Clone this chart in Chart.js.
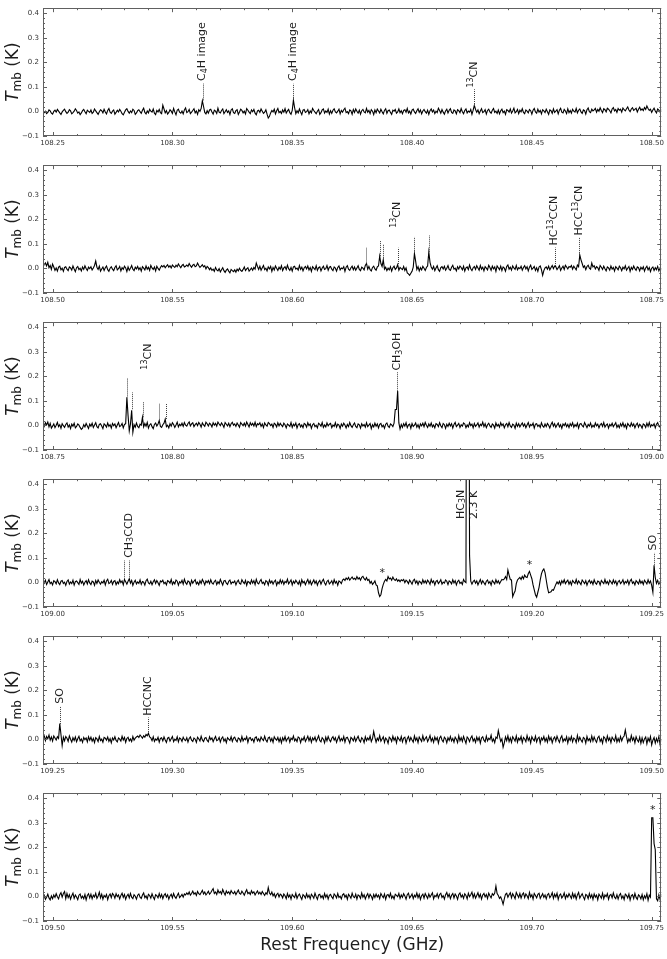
<!DOCTYPE html>
<html><head><meta charset="utf-8">
<script src="https://cdn.jsdelivr.net/npm/chart.js@4.4.1/dist/chart.umd.min.js"></script>
<style>
html,body{margin:0;padding:0;background:#fff;}
#wrap{position:relative;width:667px;height:959px;overflow:hidden;background:#fff;}
#wrap canvas{position:absolute;left:0;}
</style></head>
<body><div id="wrap"></div>
<script>
// ---- DATA (main-beam temperature in mK, one value per 0.0005 GHz channel) ----
const channelWidthGHz = 0.0005;
const panelSpanGHz = 0.258;
const panelStarts = [108.246, 108.496, 108.746, 108.996, 109.246, 109.496];

const tmbPanel1 = [
 3,-5,1,-9,-4,6,2,-7,-11,0,5,-3,8,1,-6,-12,-2,4,9,-1,
 -8,-3,7,2,-10,-5,1,11,4,-7,-2,-13,-6,3,8,-1,-9,5,0,-4,
 6,-8,-3,10,2,-5,-12,-1,7,3,-6,9,-2,-10,4,12,-3,-8,1,6,
 -11,-4,5,-2,8,1,-9,-14,-3,6,11,0,-7,2,-5,9,4,-12,-6,3,
 7,-1,-8,5,13,-4,-10,2,-6,9,1,-3,10,-7,-13,4,-2,8,-5,-9,
 25,10,-6,3,-11,-4,7,1,-8,12,-2,-14,5,9,-3,-7,2,-10,6,14,
 -5,-1,8,-9,-3,4,11,-6,2,-12,7,0,12,43,20,-4,-10,3,-7,6,
 9,-2,-11,5,1,-8,13,-3,-6,4,10,-9,-1,7,-4,2,-13,6,11,-5,
 -8,3,7,-12,-2,9,4,-6,1,-10,12,5,-3,-9,6,-1,8,-7,-14,2,
 5,-4,10,1,-8,-3,7,-11,-27,-20,-6,4,-2,9,-10,3,12,-5,0,-8,
 6,-3,11,-7,2,8,-5,-12,4,46,15,-9,3,-6,10,-2,-13,5,8,-4,
 -1,7,-10,2,-6,12,4,-3,-9,1,8,-12,-5,6,10,-7,2,-4,9,-11,
 3,-8,5,11,-2,-6,1,9,-10,4,-3,7,13,-5,-1,-9,6,2,-12,8,
 -4,10,1,-7,5,-11,3,8,-2,-6,12,-3,4,-9,7,1,-13,6,-5,10,
 2,-6,9,-1,-10,4,11,-8,3,6,-4,-12,5,1,8,-7,-2,10,-5,3,
 -9,4,7,-3,12,-6,1,-11,5,9,-2,-8,3,11,-4,6,-10,2,8,-1,
 -7,5,-12,3,10,-2,6,-9,1,-5,13,4,-7,8,-3,-11,2,9,-6,5,
 11,-4,-8,6,2,-10,7,3,-5,12,-1,-9,4,10,-6,1,-3,8,-12,5,
 25,8,-3,6,-9,2,11,-5,-1,7,-11,4,9,-2,-7,5,12,-4,1,-8,
 6,-10,3,9,-5,1,-12,7,4,-3,10,-7,2,13,-6,-1,8,-9,5,-2,
 11,-4,-9,6,1,-6,8,3,-11,5,12,-2,-7,9,-3,4,-10,7,2,-5,
 9,-1,-12,6,3,-8,10,-4,1,7,-10,5,13,-3,-6,8,2,-9,11,-5,
 4,-7,9,1,-3,12,-6,5,10,-2,-8,6,3,-11,7,14,-1,-5,9,2,
 6,12,-3,8,1,15,4,-5,11,7,-2,13,9,3,-6,10,16,2,8,-4,
 12,5,9,-3,14,7,2,11,18,6,-1,10,15,4,8,13,-2,9,17,5,
 10,3,16,8,22,12,4,9,-4,6,13,2,-6,10,5,-3,8,1,6,-2
];
const tmbPanel2 = [
 8,15,22,10,25,3,12,-4,18,6,-8,2,-11,5,9,-6,1,-12,4,7,
 -3,-9,6,2,-7,10,-2,-13,3,8,-5,1,-10,6,-4,11,0,-8,5,-1,
 7,-6,2,12,30,5,-4,9,-11,-2,6,-8,3,10,-5,-12,1,7,-3,-9,
 4,11,-6,-1,8,-10,3,-4,9,2,-13,6,-7,1,12,-3,-9,5,-2,8,
 -5,3,-11,7,1,-6,10,-3,5,-8,12,2,-4,6,-10,9,0,-7,4,11,
 6,12,3,9,15,5,11,2,14,8,4,13,7,18,10,3,12,16,6,9,
 14,8,20,11,5,13,17,7,10,22,12,4,9,15,6,11,-2,8,3,-5,
 2,-8,-3,-12,4,-6,-10,-1,-14,-5,3,-9,-16,-7,-2,-11,-18,-4,-9,-13,
 -6,-15,-3,-10,1,-8,-12,-4,6,-9,-2,3,-11,-5,2,-7,4,-3,22,8,
 -4,9,-7,3,12,-5,1,-10,6,-2,8,-12,4,-6,10,1,-8,5,-3,11,
 -9,2,7,-5,13,-1,-8,4,-11,6,9,-3,1,-7,12,-4,5,-10,3,8,
 -2,10,-6,4,-12,7,1,-5,11,-8,3,6,-10,2,9,-4,-1,12,-7,5,
 8,-3,-9,6,1,-11,4,10,-6,2,-1,7,-12,5,11,-3,-8,3,9,-5,
 6,-7,2,11,-4,-9,5,1,-6,12,20,-3,8,-5,-10,4,9,-2,-7,6,
 10,50,20,8,35,-3,5,-9,1,-6,7,-11,3,9,-4,2,15,-7,4,-1,
 -5,8,-8,2,-18,-22,-28,-20,-12,5,61,30,-4,7,-10,3,-6,9,1,-8,
 4,10,67,25,6,-3,8,-9,2,11,-5,-12,3,7,-2,9,-7,1,12,-4,
 -8,5,13,-3,1,-10,7,-2,10,4,-6,9,-11,2,6,-5,14,-1,-9,3,
 8,-4,11,2,-7,12,-3,5,-10,7,1,-6,13,4,-8,9,-2,6,-12,10,
 3,-5,9,-9,6,1,-11,8,14,-3,5,-7,10,2,-4,12,-6,3,-1,9,
 -7,4,11,-2,7,-10,5,13,-4,1,8,-8,3,-12,6,10,-5,-28,-9,2,
 6,-3,9,-6,4,12,-1,10,7,-5,3,11,-8,2,9,-4,13,6,-2,8,
 5,12,-3,9,2,-6,14,7,55,35,20,4,10,-5,8,13,1,-3,22,6,
 11,-2,7,3,-8,12,5,-4,9,-1,-10,6,2,-7,10,-3,4,-11,7,1,
 -6,9,3,-9,5,-2,11,-7,1,8,-12,4,-4,10,-1,-8,6,3,-10,5,
 -3,7,-11,2,9,-6,4,-13,1,6,-8,3,-5,8,-10,2,-7,5,-2,-9
];
const tmbPanel3 = [
 5,-4,11,2,14,-6,8,-11,-3,6,-9,1,12,-5,3,-12,7,-1,-8,4,
 10,-7,2,-13,5,-3,9,-10,-4,6,1,-8,-16,-11,3,-6,8,-2,-12,5,
 -3,9,-8,2,11,-5,-10,4,7,-2,-13,6,1,-7,10,-4,3,-11,8,-1,
 6,-9,2,12,-5,-1,8,-10,4,7,115,40,-22,6,62,-28,3,-7,10,-4,
 -9,5,1,33,-6,8,-3,12,-11,2,7,-5,-13,4,10,-2,6,20,-4,-8,
 3,9,25,-5,1,-10,7,-3,11,4,-8,2,13,-6,5,-1,9,-4,12,1,
 -3,8,14,-2,6,11,-5,3,9,-1,12,5,-7,10,2,-4,13,7,-2,9,
 4,-6,11,1,8,-3,14,6,-1,10,3,-8,12,5,-2,9,-5,7,13,1,
 6,-4,10,2,-7,12,5,-1,9,-3,14,4,-6,11,1,8,-2,13,-5,7,
 3,11,-4,6,-9,10,2,-3,12,7,-1,5,-8,9,4,-6,11,-2,8,1,
 -5,9,3,-10,6,1,-4,12,-8,5,-2,10,-11,3,7,-6,2,-9,8,4,
 -7,11,-1,6,-12,3,8,-5,1,-10,9,4,-3,12,-8,2,-6,10,-2,5,
 8,-9,2,-4,11,-7,5,1,-12,6,-3,9,2,-10,4,-5,12,-1,-8,3,
 10,-4,-9,6,2,-11,7,-2,4,-7,11,-5,1,8,-13,3,-6,9,-3,6,
 -10,4,8,-6,1,-12,5,10,-3,-8,6,2,-5,9,65,65,140,10,-15,4,
 -8,7,-3,11,-9,2,5,-12,8,-4,1,10,-7,3,-11,6,-2,9,-5,12,
 1,-8,6,-3,10,-6,2,-10,7,4,-5,11,-1,-9,8,3,-12,5,-4,9,
 -2,7,-11,4,12,-5,1,8,-8,3,-3,10,6,-9,2,-6,11,-1,5,-10,
 8,-4,2,10,-7,5,-1,13,-5,7,-9,3,9,-2,-8,6,1,-11,10,-3,
 4,-7,11,-1,6,-10,3,8,-5,12,-2,-8,5,1,-12,9,-4,7,-6,3,
 10,-3,6,-9,2,12,-6,4,-1,9,-11,5,7,-4,2,-8,11,-2,-7,6,
 -5,8,1,-10,4,13,-3,7,-8,2,10,-6,3,-12,6,-1,9,-5,4,-9,
 7,-2,11,-7,3,-4,9,-11,5,8,-1,-6,12,2,-9,4,-3,10,-8,1,
 -6,10,-2,5,-10,3,8,-4,12,-7,1,6,-11,4,-2,9,-5,3,11,-8,
 2,-9,7,-3,11,-6,4,-12,8,1,-5,10,-2,6,-10,3,9,-7,5,-1,
 -11,6,2,-8,9,-4,12,-6,3,-2,7,-10,5,11,-3,-7,4,8,-5,2
];
const tmbPanel4 = [
 6,-3,9,-8,2,12,-5,1,-10,7,3,-6,11,-2,-9,5,8,-4,1,-12,
 4,10,-7,2,-5,9,-11,3,6,-1,-8,12,-3,5,-10,1,7,-6,11,-2,
 -9,5,2,-12,8,-4,10,1,-7,3,-2,9,-10,6,13,-5,-1,8,-8,4,
 7,-9,2,-5,11,-1,6,-10,12,3,-7,5,15,-3,8,-12,1,9,-6,2,
 -4,10,-8,4,1,-11,7,13,-2,-6,5,-9,3,11,-4,8,-1,-12,6,2,
 9,-5,1,-10,7,4,-3,12,-8,2,-6,10,5,-11,3,-2,9,-7,13,-1,
 -8,6,2,-12,9,-3,5,11,-6,1,-9,7,-4,12,3,-10,6,-1,8,-5,
 11,-2,-7,4,9,-9,3,-5,12,1,-11,6,8,-3,-8,5,10,-6,2,-1,
 6,-10,3,9,-4,-7,11,2,-5,8,-12,4,1,-6,10,-3,7,-9,13,-2,
 -6,5,12,-4,1,-9,7,3,-11,10,-2,6,-7,4,9,-12,2,-5,11,-3,
 8,-8,4,-1,13,-6,2,10,-10,5,-3,9,1,-7,6,-12,11,-2,4,-9,
 3,12,-5,7,-9,1,10,-4,6,-11,2,8,-7,5,13,-2,-10,4,9,-6,
 -1,7,-8,11,-3,4,-12,6,2,-5,10,14,8,18,12,20,9,16,22,13,
 17,11,24,14,19,9,21,25,15,10,20,8,12,-3,4,-8,-2,6,-10,-14,
 -42,-57,-50,-25,-8,5,12,6,24,14,18,9,22,12,8,15,5,10,3,11,
 7,12,-1,9,4,-5,10,2,-7,8,13,-3,6,-9,5,1,-6,11,-2,7,
 -4,9,3,-8,12,-1,6,-10,4,8,-5,2,11,-7,1,-3,10,5,-9,6,
 2,-6,11,-2,7,-10,4,9,-4,1,-8,12,3,-1,2300,2300,110,5,-7,4,
 9,-3,6,-10,2,12,-5,7,-1,-9,5,10,-4,3,-11,8,1,-6,11,-2,
 7,-5,4,12,10,14,24,12,50,30,12,10,-58,-45,-35,-5,10,15,20,12,
 25,15,30,22,20,35,45,30,15,-10,-30,-50,-60,-40,-20,10,35,48,55,40,
 10,-20,-42,-40,-38,-30,-32,-20,-8,2,-6,5,-9,7,-2,11,-5,3,9,-7,
 4,-10,8,1,-4,12,-6,6,-1,-9,10,3,-5,7,-11,2,9,-3,5,-8,
 11,-2,-7,6,3,-10,8,1,-5,12,-4,4,-8,9,2,-6,10,-3,6,-11,
 3,8,-5,1,11,-7,4,-2,9,-9,6,13,-4,2,-10,7,1,-6,10,-3,
 5,-8,9,2,-6,11,-3,6,-12,-40,70,20,-4,8,-7,3,9,-5,2,-9
];
const tmbPanel5 = [
 8,16,-5,12,3,18,-3,10,-7,14,6,-2,11,4,65,20,-25,9,-6,12,
 5,-8,14,1,-11,7,-4,10,-9,3,13,-6,2,-12,8,-1,6,-10,11,-3,
 9,-7,4,-13,7,2,-9,12,-5,1,-11,8,5,-3,10,-8,3,-14,6,-2,
 11,-4,-10,6,1,-7,13,-2,8,-12,4,9,-6,2,-9,12,-3,5,10,14,
 8,18,12,5,15,9,20,15,25,10,6,-5,11,-8,2,-3,9,-11,4,7,
 -6,10,-2,-12,5,8,-7,3,12,-9,1,-4,11,-10,6,2,-8,9,-1,-5,
 7,-11,4,10,-3,-8,6,1,-12,9,3,-6,13,-2,-9,5,8,-4,-10,11,
 -1,6,-9,3,12,-5,-2,8,-11,4,10,-7,2,-13,7,1,-4,11,-8,5,
 9,-3,-10,6,2,-9,12,-6,4,-1,11,-12,5,8,-4,2,-11,7,10,-6,
 3,-8,10,1,-5,13,-2,-10,6,9,-7,4,-12,11,2,-3,8,-9,5,-14,
 7,-4,12,-7,3,9,-11,5,-1,14,-6,2,-9,10,6,-13,4,-3,11,-8,
 2,13,-5,8,-12,6,-2,10,-8,3,15,-4,-10,7,1,-14,9,-6,12,-1,
 -9,5,11,-3,7,-12,2,14,-7,4,-5,12,-11,6,9,-2,-15,8,3,-6,
 10,-8,4,13,-3,-10,7,1,-13,11,-5,6,-2,14,-9,3,32,8,-11,5,
 -4,15,-7,2,11,-12,6,-1,-16,9,4,-8,13,-3,7,-14,10,2,-6,12,
 -10,5,9,-15,3,12,-6,8,-2,-11,14,-4,6,-13,10,1,-8,15,-5,4,
 11,-9,2,16,-7,5,-12,10,-3,8,-15,6,13,-2,-10,9,3,-14,7,-4,
 12,-6,4,-11,9,1,-13,15,-5,7,-8,12,-2,-16,10,4,-9,6,14,-7,
 3,-12,10,-4,8,-15,6,11,-3,-10,13,-6,5,-1,17,-8,2,-13,9,4,
 36,12,-8,2,-32,-14,10,-5,15,-9,6,-12,11,3,-7,14,-11,5,-3,12,
 -13,8,2,-9,16,-4,7,-15,11,1,-6,13,-10,4,9,-16,6,-2,12,-8,
 5,-11,14,-3,8,-14,3,10,-7,13,-1,-12,6,15,-9,2,-5,11,-15,7,
 -4,12,-10,6,1,-13,16,-6,9,-2,-11,8,4,-15,12,-5,3,-9,14,-7,
 10,-3,-12,7,13,-8,2,-16,11,5,-10,14,-4,6,-13,9,1,-7,15,-11,
 4,-9,12,-6,8,14,38,10,-12,3,-8,16,-4,7,-14,11,-2,-10,9,-16,
 6,-13,2,10,-18,5,-7,12,-22,-3,8,-15,4,-10,11,-20,1,-6,9,-14
];
const tmbPanel6 = [
 -8,4,-12,-3,9,-6,-14,2,-9,6,-4,11,-1,-10,7,15,-3,12,20,-9,
 12,-5,7,-11,3,13,-8,6,-2,-13,5,10,-7,1,-9,8,-14,4,11,-6,
 9,-10,5,-2,13,-8,2,17,-6,9,-11,4,-3,8,-13,3,10,-5,12,6,
 -7,11,-1,6,-10,4,13,-4,8,-12,2,9,-6,12,-3,-9,7,1,-11,5,
 10,-3,-8,6,14,-5,2,-10,9,4,-7,11,-2,-12,7,3,-6,12,-4,8,
 -9,5,11,-3,7,-11,2,9,-6,12,-1,-8,4,13,-5,1,8,-3,10,6,
 14,8,18,5,12,22,9,15,4,20,11,7,16,25,10,18,6,13,21,9,
 15,24,32,12,18,8,26,14,20,10,28,16,6,22,13,19,9,24,15,11,
 20,7,17,26,12,9,21,14,5,18,27,11,16,8,23,13,19,6,15,22,
 10,17,8,20,12,4,15,9,36,14,7,18,2,11,-4,8,13,-2,9,5,
 -6,10,3,-9,12,-3,6,-11,8,1,-5,13,-8,4,10,-2,-12,7,2,-7,
 11,-4,5,-10,9,2,-7,13,-1,-12,6,9,-5,3,-9,12,-3,7,-11,4,
 8,-2,-9,10,4,-6,12,-4,1,-10,7,11,-3,5,-12,9,2,-7,13,-1,
 -5,9,-11,6,2,-8,14,-3,7,-10,3,11,-6,9,1,-12,8,-4,10,-2,
 6,-9,12,3,-5,10,-12,5,8,-3,13,-7,2,-10,9,4,-1,12,-8,6,
 -4,11,2,-11,7,13,-6,1,10,-9,5,-2,14,-5,8,-12,3,9,-7,12,
 2,-8,10,-3,6,15,-10,4,-1,11,-6,8,13,-4,3,-11,7,16,-2,9,
 -9,5,12,-6,10,2,-12,8,14,-3,6,-8,11,4,-10,13,-1,7,17,-5,
 10,-7,4,15,-3,9,-11,6,12,-2,8,-9,13,3,-6,11,5,14,42,12,
 4,-8,-2,-15,-32,-10,9,13,-3,7,15,-6,11,2,-9,16,6,-4,12,-7,
 8,14,-5,10,3,-9,16,-2,7,-11,12,4,-6,9,13,-8,2,11,-4,6,
 -10,7,12,-5,3,15,-8,9,-2,13,-12,5,10,-6,1,14,-9,6,-3,11,
 2,-8,13,-4,9,-11,6,16,-7,3,11,-2,-13,8,4,-9,12,-5,7,-12,
 10,-3,5,-14,9,2,-7,13,-10,6,-1,11,-12,4,8,-6,14,-3,-9,7,
 -11,5,12,-8,2,-13,9,4,-6,10,-15,3,7,-9,12,-4,-12,6,1,-10,
 8,-14,3,-7,11,-16,5,-3,320,320,215,190,-10,-18,6,-12,9,-5,2,-8
];

// tick labels
const yTickValues = [-0.1, 0.0, 0.1, 0.2, 0.3, 0.4];
const xTicksPanel1 = [108.25, 108.30, 108.35, 108.40, 108.45, 108.50];
const xTicksPanel2 = [108.50, 108.55, 108.60, 108.65, 108.70, 108.75];
const xTicksPanel3 = [108.75, 108.80, 108.85, 108.90, 108.95, 109.00];
const xTicksPanel4 = [109.00, 109.05, 109.10, 109.15, 109.20, 109.25];
const xTicksPanel5 = [109.25, 109.30, 109.35, 109.40, 109.45, 109.50];
const xTicksPanel6 = [109.50, 109.55, 109.60, 109.65, 109.70, 109.75];

// line identifications: dotted markers [GHz, from K, to K]
const marksPanel1 = [[108.3126,0.045,0.113],[108.3505,0.047,0.113],[108.426,0.022,0.090]];
const marksPanel2 = [[108.6307,0.020,0.086],[108.6365,0.050,0.115],[108.6378,0.035,0.100],[108.6440,0.018,0.084],
                     [108.6508,0.062,0.128],[108.6570,0.068,0.135],[108.7095,0.010,0.085],[108.7198,0.055,0.128]];
const marksPanel3 = [[108.7810,0.118,0.193],[108.7832,0.066,0.134],[108.7877,0.033,0.098],[108.7944,0.020,0.088],
                     [108.7972,0.026,0.090],[108.8939,0.141,0.217]];
const marksPanel4 = [[109.0298,0.015,0.090],[109.0319,0.015,0.090],[109.2510,0.070,0.120]];
const marksPanel5 = [[109.2532,0.063,0.135],[109.2897,0.030,0.089]];
const marksPanel6 = [];

// labels [GHz, K at text start, text]  (_{..} subscript, ^{..} superscript)
const labelsPanel1 = [[108.3126,0.124,'C_{4}H image'],[108.3505,0.124,'C_{4}H image'],[108.426,0.097,'^{13}CN']];
const labelsPanel2 = [[108.6439,0.165,'^{13}CN'],[108.7095,0.093,'HC^{13}CCN'],[108.7198,0.134,'HCC^{13}CN']];
const labelsPanel3 = [[108.7898,0.227,'^{13}CN'],[108.8939,0.223,'CH_{3}OH']];
const labelsPanel4 = [[109.0318,0.100,'CH_{3}CCD'],[109.1730,0.258,'HC_{3}N\n2.3 K'],[109.2505,0.130,'SO']];
const labelsPanel5 = [[109.2532,0.145,'SO'],[109.2897,0.096,'HCCNC']];
const labelsPanel6 = [];

// unidentified features [GHz, K]
const starsPanel4 = [[109.1376,0.036],[109.1990,0.071]];
const starsPanel6 = [[109.7505,0.350]];

// ---- RENDERING ----
const panels = [
  {start: panelStarts[0], values: tmbPanel1, xTicks: xTicksPanel1, marks: marksPanel1, labels: labelsPanel1, stars: []},
  {start: panelStarts[1], values: tmbPanel2, xTicks: xTicksPanel2, marks: marksPanel2, labels: labelsPanel2, stars: []},
  {start: panelStarts[2], values: tmbPanel3, xTicks: xTicksPanel3, marks: marksPanel3, labels: labelsPanel3, stars: []},
  {start: panelStarts[3], values: tmbPanel4, xTicks: xTicksPanel4, marks: marksPanel4, labels: labelsPanel4, stars: starsPanel4},
  {start: panelStarts[4], values: tmbPanel5, xTicks: xTicksPanel5, marks: marksPanel5, labels: labelsPanel5, stars: []},
  {start: panelStarts[5], values: tmbPanel6, xTicks: xTicksPanel6, marks: marksPanel6, labels: labelsPanel6, stars: starsPanel6}
];
const FONT = '"DejaVu Sans", sans-serif';
const wrap = document.getElementById('wrap');
const pitch = 157;
const areaBottom = 136;

function fmtY(v){ const s = Math.abs(v).toFixed(1); return v < -1e-9 ? '\u2212' + s : s; }

// draw text with _{sub} and ^{sup} markup, left-aligned at (x,y), middle baseline
function drawRich(ctx, str, x, y){
  const re = /([_^])\{([^}]*)\}|([^_^]+)/g;
  let m, xx = x;
  while ((m = re.exec(str)) !== null){
    if (m[3] !== undefined){
      ctx.font = '11px ' + FONT; ctx.fillText(m[3], xx, y); xx += ctx.measureText(m[3]).width;
    } else {
      ctx.font = '8px ' + FONT;
      const dy = m[1] === '_' ? 2.5 : -3.5;
      ctx.fillText(m[2], xx, y + dy); xx += ctx.measureText(m[2]).width;
    }
  }
}

function decoPlugin(p, isLast){
  return {
    id: 'deco',
    afterDraw(chart){
      const ctx = chart.ctx, a = chart.chartArea, xs = chart.scales.x, ys = chart.scales.y;
      ctx.save();
      // frame
      ctx.strokeStyle = '#606060'; ctx.lineWidth = 1; ctx.setLineDash([]);
      ctx.strokeRect(Math.round(a.left)+0.5, Math.round(a.top)+0.5, Math.round(a.right-a.left)-1, Math.round(a.bottom-a.top)-1);
      // inward ticks
      ctx.beginPath();
      const x0 = Math.ceil(xs.min/0.01 - 1e-6), x1 = Math.floor(xs.max/0.01 + 1e-6);
      for (let k = x0; k <= x1; k++){
        const v = k*0.01, px = Math.round(xs.getPixelForValue(v))+0.5;
        const len = (k % 5 === 0) ? 4 : 2;
        ctx.moveTo(px, a.bottom); ctx.lineTo(px, a.bottom-len);
        ctx.moveTo(px, a.top); ctx.lineTo(px, a.top+len);
      }
      for (let k = -5; k <= 21; k++){
        const v = k*0.02, py = Math.round(ys.getPixelForValue(v))+0.5;
        const len = (k % 5 === 0) ? 4 : 2;
        ctx.moveTo(a.left, py); ctx.lineTo(a.left+len, py);
        ctx.moveTo(a.right, py); ctx.lineTo(a.right-len, py);
      }
      ctx.stroke();
      // dotted markers
      ctx.strokeStyle = '#3a3a3a'; ctx.setLineDash([1,1]); ctx.lineWidth = 1;
      ctx.beginPath();
      p.marks.forEach(([f, y0, y1]) => {
        const px = Math.round(xs.getPixelForValue(f))+0.5;
        ctx.moveTo(px, ys.getPixelForValue(y0)); ctx.lineTo(px, ys.getPixelForValue(y1));
      });
      ctx.stroke();
      ctx.setLineDash([]);
      // labels
      ctx.fillStyle = '#1e1e1e';
      p.labels.forEach(([f, yk, text]) => {
        const lines = text.split('\n');
        ctx.save();
        ctx.translate(xs.getPixelForValue(f), ys.getPixelForValue(yk));
        ctx.rotate(-Math.PI/2);
        ctx.textAlign = 'left'; ctx.textBaseline = 'middle';
        lines.forEach((ln, k) => drawRich(ctx, ln, 0, (k-(lines.length-1)/2)*13));
        ctx.restore();
      });
      ctx.font = '11px ' + FONT;
      ctx.textAlign = 'center'; ctx.textBaseline = 'middle';
      p.stars.forEach(([f, yk]) => ctx.fillText('*', xs.getPixelForValue(f), ys.getPixelForValue(yk)));
      // y title  T_mb (K)
      const cy = (a.top + a.bottom)/2;
      const fT = 'italic 17px ' + FONT, fS = '12px ' + FONT, fK = '17px ' + FONT;
      ctx.font = fT; const wT = ctx.measureText('T').width;
      ctx.font = fS; const wS = ctx.measureText('mb').width;
      ctx.font = fK; const wK = ctx.measureText(' (K)').width;
      const W = wT + wS + wK;
      ctx.save();
      ctx.translate(18, cy); ctx.rotate(-Math.PI/2);
      ctx.textAlign = 'left'; ctx.textBaseline = 'alphabetic'; ctx.fillStyle = '#1e1e1e';
      let xx = -W/2;
      ctx.font = fT; ctx.fillText('T', xx, 0); xx += wT;
      ctx.font = fS; ctx.fillText('mb', xx, 3); xx += wS;
      ctx.font = fK; ctx.fillText(' (K)', xx, 0);
      ctx.restore();
      if (isLast){
        ctx.font = '17px ' + FONT; ctx.textAlign = 'center'; ctx.textBaseline = 'alphabetic';
        ctx.fillText('Rest Frequency (GHz)', (a.left+a.right)/2, chart.height - 9);
      }
      ctx.restore();
    }
  };
}

panels.forEach((p, idx) => {
  const isLast = idx === panels.length-1;
  const h = isLast ? 959 - idx*pitch : pitch;
  const cv = document.createElement('canvas');
  cv.width = 667; cv.height = h;
  cv.style.top = (idx*pitch) + 'px'; cv.style.width = '667px'; cv.style.height = h + 'px';
  wrap.appendChild(cv);
  const pts = p.values.map((v, i) => ({x: p.start + i*channelWidthGHz, y: v/1000}));
  new Chart(cv, {
    type: 'line',
    data: {datasets: [{data: pts, borderColor: '#000000', borderWidth: 1.1, pointRadius: 0, tension: 0, fill: false, borderJoinStyle: 'miter'}]},
    options: {
      responsive: false, animation: false, devicePixelRatio: 1,
      layout: {padding: {top: 4, right: 5, left: 0, bottom: 0}},
      scales: {
        x: {
          type: 'linear', min: p.start, max: p.start + panelSpanGHz,
          afterBuildTicks: ax => { ax.ticks = p.xTicks.map(v => ({value: v})); },
          afterFit: ax => { ax.height = h - areaBottom; },
          grid: {display: false, drawTicks: false}, border: {display: false},
          ticks: {font: {family: FONT, size: 7}, color: '#333', padding: 3, maxRotation: 0, minRotation: 0, autoSkip: false,
                  callback: v => Number(v).toFixed(2)}
        },
        y: {
          min: -0.1, max: 0.42,
          afterBuildTicks: ax => { ax.ticks = yTickValues.map(v => ({value: v})); },
          afterFit: ax => { ax.width = 43; },
          grid: {display: false, drawTicks: false}, border: {display: false},
          ticks: {font: {family: FONT, size: 7}, color: '#333', padding: 4, autoSkip: false, callback: v => fmtY(Number(v))}
        }
      },
      plugins: {legend: {display: false}, tooltip: {enabled: false}}
    },
    plugins: [decoPlugin(p, isLast)]
  });
});
</script>
</body></html>
